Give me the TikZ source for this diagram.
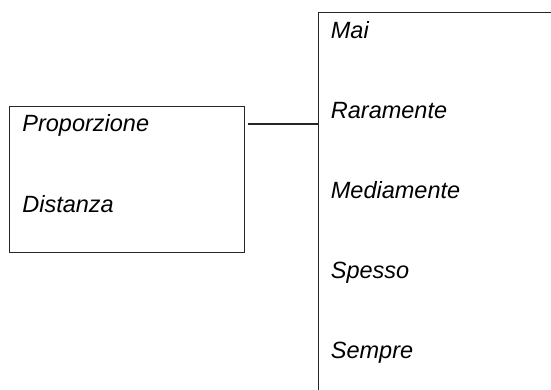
\documentclass[tikz,border=0pt]{standalone}
\usepackage{fontspec}
\setmainfont{Liberation Sans}
\usetikzlibrary{positioning}

\begin{document}
\begin{tikzpicture}[x=0.5pt, y=-0.5pt,
  box/.style={draw=black!85, line width=0.7pt, inner sep=0pt, anchor=north west},
  label/.style={anchor=base west, inner sep=0pt, font=\fontsize{11.75}{14}\selectfont\itshape},
  link/.style={draw=black!85, line width=0.7pt}]

% Page frame
\useasboundingbox (0,0) rectangle (551,390);
\clip (0,0) rectangle (551,390);

% Left box
\node[box, minimum width=117.5pt, minimum height=73pt] (params) at (9,106) {};
\node[label] (proporzione) at (22,131.7) {Proporzione};
\node[label] (distanza) at (22,212) {Distanza};

% Right box (runs past the page)
\node[box, minimum width=160pt, minimum height=220pt] (scale) at (318,12) {};
\foreach \name/\txt [count=\i from 0] in {mai/Mai, raramente/Raramente, mediamente/Mediamente, spesso/Spesso, sempre/Sempre}
  \node[label] (\name) at (330.5,38.5+80*\i) {\txt};

% Connector
\coordinate (stub) at ([xshift=1.5pt, yshift=-9pt]params.north east);
\draw[link] (stub) -- (stub -| scale.west);

\end{tikzpicture}
\end{document}
